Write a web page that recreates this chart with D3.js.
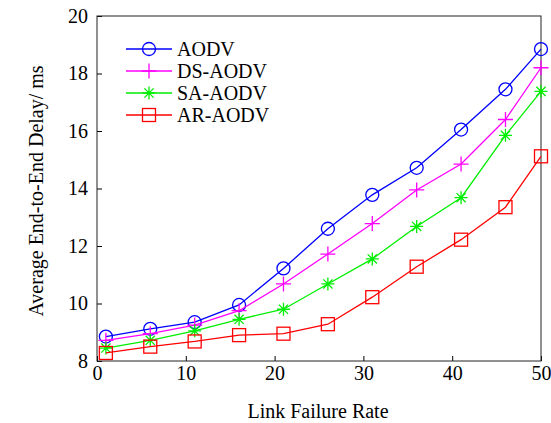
<!DOCTYPE html>
<html>
<head>
<meta charset="utf-8">
<script src="https://cdn.jsdelivr.net/npm/d3@7"></script>
<style>
  body { margin: 0; background: #fff; }
  text { font-family: "Liberation Serif", "Times New Roman", serif; fill: #000; }
</style>
</head>
<body>
<svg id="chart" width="551" height="423"></svg>
<script>
// data
const rates = [1, 6, 11, 16, 21, 26, 31, 36, 41, 46, 50]
const aodv = [8.85, 9.12, 9.35, 9.95, 11.22, 12.6, 13.78, 14.72, 16.05, 17.45, 18.85]
const dsAodv = [8.72, 8.95, 9.25, 9.75, 10.68, 11.72, 12.78, 13.95, 14.85, 16.4, 18.2]
const saAodv = [8.45, 8.72, 9.05, 9.45, 9.8, 10.68, 11.55, 12.68, 13.68, 15.85, 17.38]
const arAodv = [8.28, 8.5, 8.68, 8.9, 8.95, 9.28, 10.22, 11.28, 12.22, 13.35, 15.12]
const xTicks = [0, 10, 20, 30, 40, 50]
const yTicks = [8, 10, 12, 14, 16, 18, 20]

const series = [
  { name: 'AODV', values: aodv, color: '#0000ff', marker: 'circle' },
  { name: 'DS-AODV', values: dsAodv, color: '#ff00ff', marker: 'plus' },
  { name: 'SA-AODV', values: saAodv, color: '#00ee00', marker: 'star' },
  { name: 'AR-AODV', values: arAodv, color: '#ff0000', marker: 'square' }
]

const margin = { top: 16, right: 10, bottom: 62, left: 97 }
const chart_width = 541 - margin.left
const chart_height = 361 - margin.top
const fontSize = '20px'

const svg = d3.select('#chart')
const g = svg.append('g').attr('transform', `translate(${margin.left},${margin.top})`)

const xScale = d3.scaleLinear([0, 50], [0, chart_width])
const yScale = d3.scaleLinear([8, 20], [chart_height, 0])

// axes (ticks pointing inward)
const xAxis = d3.axisBottom(xScale).tickValues(xTicks).tickSizeInner(-5).tickSizeOuter(0).tickPadding(4)
const yAxis = d3.axisLeft(yScale).tickValues(yTicks).tickSizeInner(-5).tickSizeOuter(0).tickPadding(9)

const xg = g.append('g').attr('transform', `translate(0,${chart_height})`).call(xAxis)
const yg = g.append('g').call(yAxis)
;[xg, yg].forEach(a => {
  a.select('.domain').remove()
  a.selectAll('line').attr('stroke', '#000')
  a.selectAll('text').style('font-family', '"Liberation Serif", serif').style('font-size', fontSize).attr('fill', '#000')
})
xg.selectAll('text').attr('dy', '0.75em')

// frame
g.append('rect').attr('width', chart_width).attr('height', chart_height)
  .attr('fill', 'none').attr('stroke', '#222').attr('stroke-width', 1)

// marker drawing
function drawMarker(sel, type, color) {
  if (type === 'circle') {
    sel.append('circle').attr('r', 6.5).attr('fill', 'none').attr('stroke', color).attr('stroke-width', 1.3)
  } else if (type === 'square') {
    sel.append('rect').attr('x', -6.5).attr('y', -6.5).attr('width', 13).attr('height', 13)
      .attr('fill', 'none').attr('stroke', color).attr('stroke-width', 1.3)
  } else if (type === 'plus') {
    sel.append('path').attr('d', 'M-7.5,0H7.5M0,-7.5V7.5').attr('stroke', color).attr('stroke-width', 1.3)
  } else {
    sel.append('path').attr('d', 'M-6.5,0H6.5M0,-6.5V6.5M-4.6,-4.6L4.6,4.6M-4.6,4.6L4.6,-4.6')
      .attr('stroke', color).attr('stroke-width', 1.3)
  }
}

const line = d3.line().x((d, i) => xScale(rates[i])).y(d => yScale(d))

series.forEach(s => {
  g.append('path').datum(s.values).attr('d', line)
    .attr('fill', 'none').attr('stroke', s.color).attr('stroke-width', 1.3)
  g.selectAll(null).data(s.values).join('g')
    .attr('transform', (d, i) => `translate(${xScale(rates[i])},${yScale(d)})`)
    .each(function() { drawMarker(d3.select(this), s.marker, s.color) })
})

// legend
const legend = g.append('g').attr('transform', 'translate(29,33)')
series.forEach((s, i) => {
  const row = legend.append('g').attr('transform', `translate(0,${i * 22})`)
  row.append('line').attr('x1', 0).attr('x2', 46).attr('stroke', s.color).attr('stroke-width', 1.3)
  const m = row.append('g').attr('transform', 'translate(23,0)')
  drawMarker(m, s.marker, s.color)
  row.append('text').attr('x', 51).attr('dy', '0.35em').style('font-size', fontSize).text(s.name)
})

// axis titles
svg.append('text').attr('x', 318).attr('y', 418).attr('text-anchor', 'middle')
  .style('font-size', fontSize).text('Link Failure Rate')
svg.append('text').attr('transform', 'translate(43,191) rotate(-90)').attr('text-anchor', 'middle')
  .style('font-size', fontSize).text('Average End-to-End Delay/ ms')
</script>
</body>
</html>
